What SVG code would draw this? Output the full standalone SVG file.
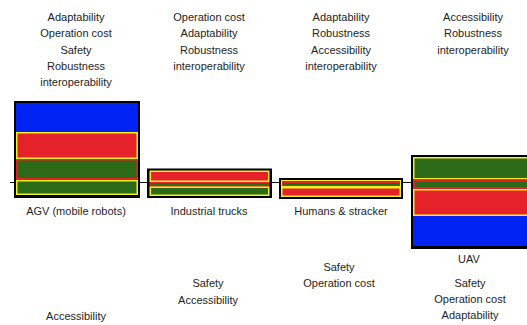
<svg xmlns="http://www.w3.org/2000/svg" width="527" height="325" viewBox="0 0 527 325">
<style>
text{font-family:"Liberation Sans",Arial,sans-serif;font-size:11px;fill:#1e1e1e;text-anchor:middle}
.frame{fill:#000}
.blue{fill:#0022f2}
.red{fill:#e52229}
.green{fill:#2c6a18}
.ry{fill:#e52229;stroke:#f4f024;stroke-width:1.5}
.gy{fill:#2c6a18;stroke:#f4f024;stroke-width:1.5}
.conn{stroke:#111;stroke-width:1;fill:none}
</style>
<rect width="527" height="325" fill="#fff"/>
<g id="connectors">
<path class="conn" d="M10 182.5H14M140 182.5H147M272 182.5H279M403 182.5H411"/>
</g>
<g id="agv">
<rect class="frame" x="14" y="101" width="126" height="97"/>
<rect class="blue" x="16" y="103" width="122" height="29"/>
<rect class="ry" x="16.75" y="132.75" width="120.5" height="25.5"/>
<rect class="red" x="16" y="159" width="122" height="21"/>
<rect class="green" x="17.5" y="160.5" width="119" height="17.5"/>
<rect class="gy" x="16.75" y="180.75" width="120.5" height="13.5"/>
<text x="76" y="215">AGV (mobile robots)</text>
</g>
<g id="industrial-trucks">
<rect class="frame" x="147" y="168.5" width="125" height="29.5"/>
<rect class="ry" x="150.25" y="171.25" width="118.5" height="10"/>
<rect class="red" x="149.5" y="182" width="120" height="5"/>
<rect class="green" x="151" y="183" width="117" height="2.5"/>
<rect class="gy" x="150.25" y="187.25" width="118.5" height="8"/>
<text x="209" y="215">Industrial trucks</text>
</g>
<g id="humans-stracker">
<rect class="frame" x="279" y="178" width="124" height="21"/>
<rect class="ry" x="281.5" y="180.5" width="119" height="6" style="stroke-width:1"/>
<rect class="green" x="283" y="183" width="116" height="2.5"/>
<rect class="ry" x="281.75" y="187.75" width="118.5" height="8.5"/>
<text x="341" y="215">Humans &amp; stracker</text>
</g>
<g id="uav">
<rect class="frame" x="411" y="155" width="130" height="94"/>
<rect class="gy" x="413.75" y="157.75" width="130" height="21"/>
<rect class="red" x="413" y="179.5" width="130" height="9.5"/>
<rect class="green" x="415" y="181.5" width="130" height="5.5"/>
<rect class="ry" x="413.75" y="189.75" width="130" height="25.5"/>
<rect class="blue" x="413" y="216" width="130" height="30"/>
<text x="469" y="263">UAV</text>
</g>
<g id="top-labels">
<text x="76" y="21">Adaptability</text>
<text x="76" y="37">Operation cost</text>
<text x="76" y="54">Safety</text>
<text x="76" y="70">Robustness</text>
<text x="76" y="86">interoperability</text>
<text x="209" y="21">Operation cost</text>
<text x="209" y="37">Adaptability</text>
<text x="209" y="54">Robustness</text>
<text x="209" y="70">interoperability</text>
<text x="341" y="21">Adaptability</text>
<text x="341" y="37">Robustness</text>
<text x="341" y="54">Accessibility</text>
<text x="341" y="70">interoperability</text>
<text x="473" y="21">Accessibility</text>
<text x="473" y="37">Robustness</text>
<text x="473" y="54">interoperability</text>
</g>
<g id="bottom-labels">
<text x="76" y="320">Accessibility</text>
<text x="208" y="287">Safety</text>
<text x="208" y="304">Accessibility</text>
<text x="339" y="271">Safety</text>
<text x="339" y="287">Operation cost</text>
<text x="470" y="287">Safety</text>
<text x="470" y="303">Operation cost</text>
<text x="470" y="319">Adaptability</text>
</g>
</svg>
